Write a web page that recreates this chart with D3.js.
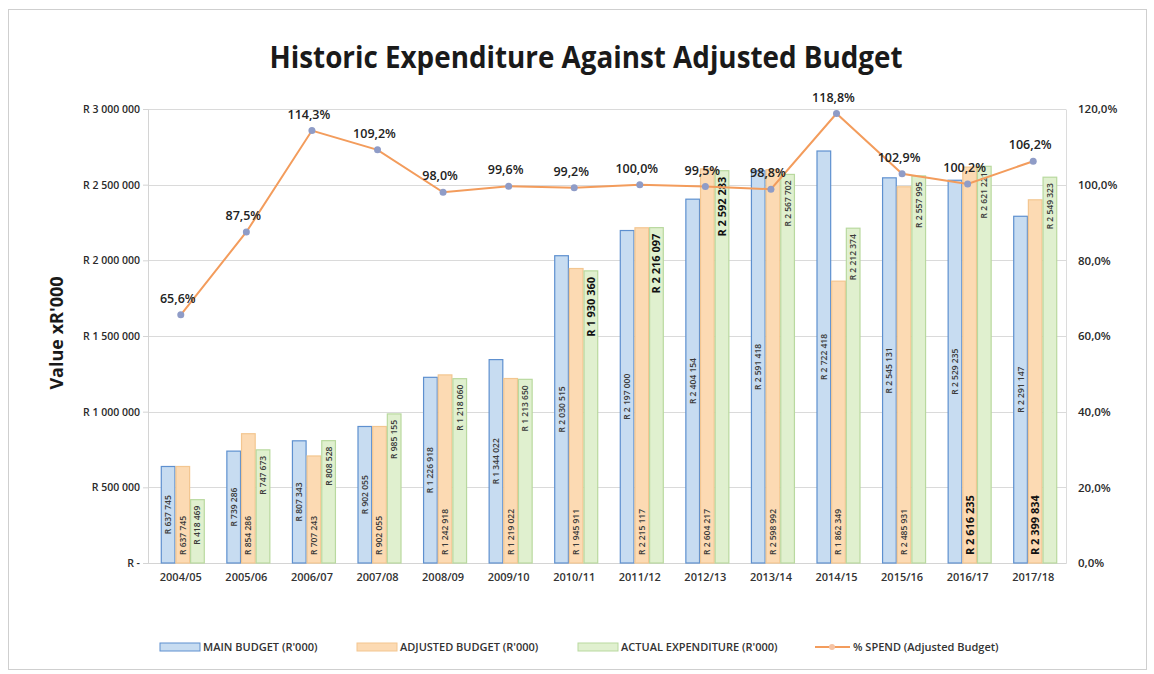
<!DOCTYPE html>
<html>
<head>
<meta charset="utf-8">
<script src="https://cdn.jsdelivr.net/npm/d3@7"></script>
<style>
  body { margin: 0; background: #fff; }
  text { font-family: "Open Sans", sans-serif; }
</style>
</head>
<body>
<div id="chart-area"></div>
<script>
// chart values
var years = ["2004/05", "2005/06", "2006/07", "2007/08", "2008/09", "2009/10", "2010/11",
             "2011/12", "2012/13", "2013/14", "2014/15", "2015/16", "2016/17", "2017/18"];
var mainBudget = [637745, 739286, 807343, 902055, 1226918, 1344022, 2030515,
                  2197000, 2404154, 2591418, 2722418, 2545131, 2529235, 2291147];
var adjustedBudget = [637745, 854286, 707243, 902055, 1242918, 1219022, 1945911,
                      2215117, 2604217, 2598992, 1862349, 2485931, 2616235, 2399834];
var actualExpenditure = [418469, 747673, 808528, 985155, 1218060, 1213650, 1930360,
                         2216097, 2592283, 2567702, 2212374, 2557995, 2621221, 2549323];
var pctSpend = [65.6, 87.5, 114.3, 109.2, 98.0, 99.6, 99.2, 100.0, 99.5, 98.8, 118.8, 102.9, 100.2, 106.2];
var valueTicks = [0, 500000, 1000000, 1500000, 2000000, 2500000, 3000000];
var pctTicks = [0, 20, 40, 60, 80, 100, 120];
var seriesNames = ["MAIN BUDGET (R'000)", "ADJUSTED BUDGET (R'000)", "ACTUAL EXPENDITURE (R'000)"];
var lineName = "% SPEND (Adjusted Budget)";

var width = 1154, height = 674;
var plot = { left: 148, right: 1066, top: 109, bottom: 563 };

var locale = d3.formatLocale({ decimal: ",", thousands: " ", grouping: [3], currency: ["R ", ""] });
var fmtRand = function(v) { return v === 0 ? "R -" : "R " + locale.format(",")(v); };
var fmtPct = function(v) { return locale.format(".1f")(v) + "%"; };

var series = [
  { key: "main", name: seriesNames[0], values: mainBudget, fill: "#c7dcf1", stroke: "#5e90cf", label: "middle" },
  { key: "adjusted", name: seriesNames[1], values: adjustedBudget, fill: "#fcdab3", stroke: "#f3c690", label: "base" },
  { key: "actual", name: seriesNames[2], values: actualExpenditure, fill: "#e0f0cf", stroke: "#b9d99f", label: "end" }
];
// labels that came out larger and darker on the scan
var boldLabels = ["actual-2010/11", "actual-2011/12", "actual-2012/13", "adjusted-2016/17", "adjusted-2017/18"];

var svg = d3.select("#chart-area").append("svg")
  .attr("width", width)
  .attr("height", height);

svg.append("rect")
  .attr("x", 8.5).attr("y", 9.5)
  .attr("width", 1138).attr("height", 660)
  .attr("fill", "#fff")
  .attr("stroke", "#cfcfcf");

var x = d3.scaleBand().domain(years).range([plot.left, plot.right]).padding(0);
var groupW = 44;
var xs = d3.scaleBand().domain(series.map(function(s) { return s.key; })).range([0, groupW]);
var y = d3.scaleLinear().domain([0, 3000000]).range([plot.bottom, plot.top]);
var y2 = d3.scaleLinear().domain([0, 120]).range([plot.bottom, plot.top]);

// grid
svg.append("g").selectAll("line").data(valueTicks).enter().append("line")
  .attr("x1", plot.left).attr("x2", plot.right)
  .attr("y1", function(d) { return Math.round(y(d)) + 0.5; })
  .attr("y2", function(d) { return Math.round(y(d)) + 0.5; })
  .attr("stroke", "#dadada");

// left axis
var yAxis = d3.axisLeft(y).tickValues(valueTicks).tickFormat(fmtRand).tickSize(5).tickPadding(3);
var yAxisGroup = svg.append("g").attr("transform", "translate(" + plot.left + ",0)").call(yAxis);
yAxisGroup.select(".domain").attr("stroke", "#d4d4d4");
yAxisGroup.selectAll(".tick line").attr("stroke", "#d4d4d4");
yAxisGroup.selectAll(".tick text")
  .attr("font-family", "\"Open Sans\", sans-serif")
  .attr("font-size", 10.5).attr("font-weight", 600).attr("fill", "#2a2a2a");

// right axis
var y2Axis = d3.axisRight(y2).tickValues(pctTicks).tickFormat(fmtPct).tickSize(0).tickPadding(12);
var y2AxisGroup = svg.append("g").attr("transform", "translate(" + plot.right + ",0)").call(y2Axis);
y2AxisGroup.select(".domain").attr("stroke", "#dcdcdc");
y2AxisGroup.selectAll(".tick text")
  .attr("font-family", "\"Open Sans\", sans-serif")
  .attr("font-size", 11.5).attr("font-weight", 600).attr("fill", "#2a2a2a");

// x axis labels
var xAxis = d3.axisBottom(x).tickSize(0).tickPadding(10);
var xAxisGroup = svg.append("g").attr("transform", "translate(0," + plot.bottom + ")").call(xAxis);
xAxisGroup.select(".domain").attr("stroke", "#d4d4d4");
xAxisGroup.selectAll(".tick text")
  .attr("font-family", "\"Open Sans\", sans-serif")
  .attr("font-size", 11).attr("font-weight", 600).attr("fill", "#333");

// bars
var offset = (x.bandwidth() - groupW) / 2 + 2;
series.forEach(function(s) {
  var g = svg.append("g").attr("class", "bars " + s.key);
  var rows = years.map(function(yr, i) { return { year: yr, value: s.values[i] }; });
  g.selectAll("rect").data(rows).enter().append("rect")
    .attr("x", function(d) { return x(d.year) + offset + xs(s.key) + 0.5; })
    .attr("y", function(d) { return y(d.value); })
    .attr("width", xs.bandwidth() - 1)
    .attr("height", function(d) { return plot.bottom - y(d.value); })
    .attr("fill", s.fill)
    .attr("stroke", s.stroke)
    .attr("stroke-width", 1.2);

  g.selectAll("text").data(rows).enter().append("text")
    .attr("transform", function(d) {
      var cx = x(d.year) + offset + xs(s.key) + xs.bandwidth() / 2;
      var cy;
      if (s.label === "middle") cy = (y(d.value) + plot.bottom) / 2;
      else if (s.label === "base") cy = plot.bottom - 8;
      else cy = y(d.value) + 6;
      return "translate(" + cx + "," + cy + ") rotate(-90)";
    })
    .attr("text-anchor", s.label === "middle" ? "middle" : (s.label === "base" ? "start" : "end"))
    .attr("dy", "0.35em")
    .attr("font-size", function(d) { return boldLabels.indexOf(s.key + "-" + d.year) >= 0 ? 11 : 8.5; })
    .attr("font-weight", function(d) { return boldLabels.indexOf(s.key + "-" + d.year) >= 0 ? "bold" : 600; })
    .attr("fill", function(d) { return boldLabels.indexOf(s.key + "-" + d.year) >= 0 ? "#111" : "#3a3a3a"; })
    .text(function(d) { return fmtRand(d.value); });
});

// % spend line
var pts = years.map(function(yr, i) { return { year: yr, value: pctSpend[i] }; });
var line = d3.line()
  .x(function(d) { return x(d.year) + x.bandwidth() / 2; })
  .y(function(d) { return y2(d.value); });
svg.append("path").datum(pts)
  .attr("d", line)
  .attr("fill", "none")
  .attr("stroke", "#f39c5c")
  .attr("stroke-width", 2);
svg.append("g").selectAll("circle").data(pts).enter().append("circle")
  .attr("cx", function(d) { return x(d.year) + x.bandwidth() / 2; })
  .attr("cy", function(d) { return y2(d.value); })
  .attr("r", 3.5)
  .attr("fill", "#8f9cc7");
svg.append("g").selectAll("text").data(pts).enter().append("text")
  .attr("x", function(d) { return x(d.year) + x.bandwidth() / 2 - 3; })
  .attr("y", function(d) { return y2(d.value) - 12; })
  .attr("text-anchor", "middle")
  .attr("font-size", 12.5)
  .attr("font-weight", 600)
  .attr("fill", "#222")
  .text(function(d) { return fmtPct(d.value); });

// titles
svg.append("text")
  .attr("x", 586).attr("y", 68)
  .attr("text-anchor", "middle")
  .attr("font-weight", "bold")
  .attr("font-size", 30)
  .attr("textLength", 633)
  .attr("lengthAdjust", "spacingAndGlyphs")
  .attr("fill", "#1a1a1a")
  .text("Historic Expenditure Against Adjusted Budget");

svg.append("text")
  .attr("transform", "translate(63,333) rotate(-90)")
  .attr("text-anchor", "middle")
  .attr("font-family", "\"Liberation Sans\", sans-serif")
  .attr("font-weight", "bold")
  .attr("font-size", 18)
  .attr("fill", "#1a1a1a")
  .text("Value xR'000");

// legend
var legendX = [160, 357, 578];
var legend = svg.append("g").attr("class", "legend");
series.forEach(function(s, i) {
  legend.append("rect")
    .attr("x", legendX[i]).attr("y", 643)
    .attr("width", 40).attr("height", 8)
    .attr("fill", s.fill).attr("stroke", s.stroke);
  legend.append("text")
    .attr("x", legendX[i] + 43).attr("y", 651)
    .attr("font-size", 11).attr("font-weight", 600).attr("fill", "#333")
    .text(s.name);
});
legend.append("line")
  .attr("x1", 815).attr("x2", 850).attr("y1", 647).attr("y2", 647)
  .attr("stroke", "#f39c5c").attr("stroke-width", 2);
legend.append("circle")
  .attr("cx", 832).attr("cy", 647).attr("r", 3)
  .attr("fill", "#f6c3a3");
legend.append("text")
  .attr("x", 853).attr("y", 651)
  .attr("font-size", 11).attr("font-weight", 600).attr("fill", "#333")
  .text(lineName);
</script>
</body>
</html>
